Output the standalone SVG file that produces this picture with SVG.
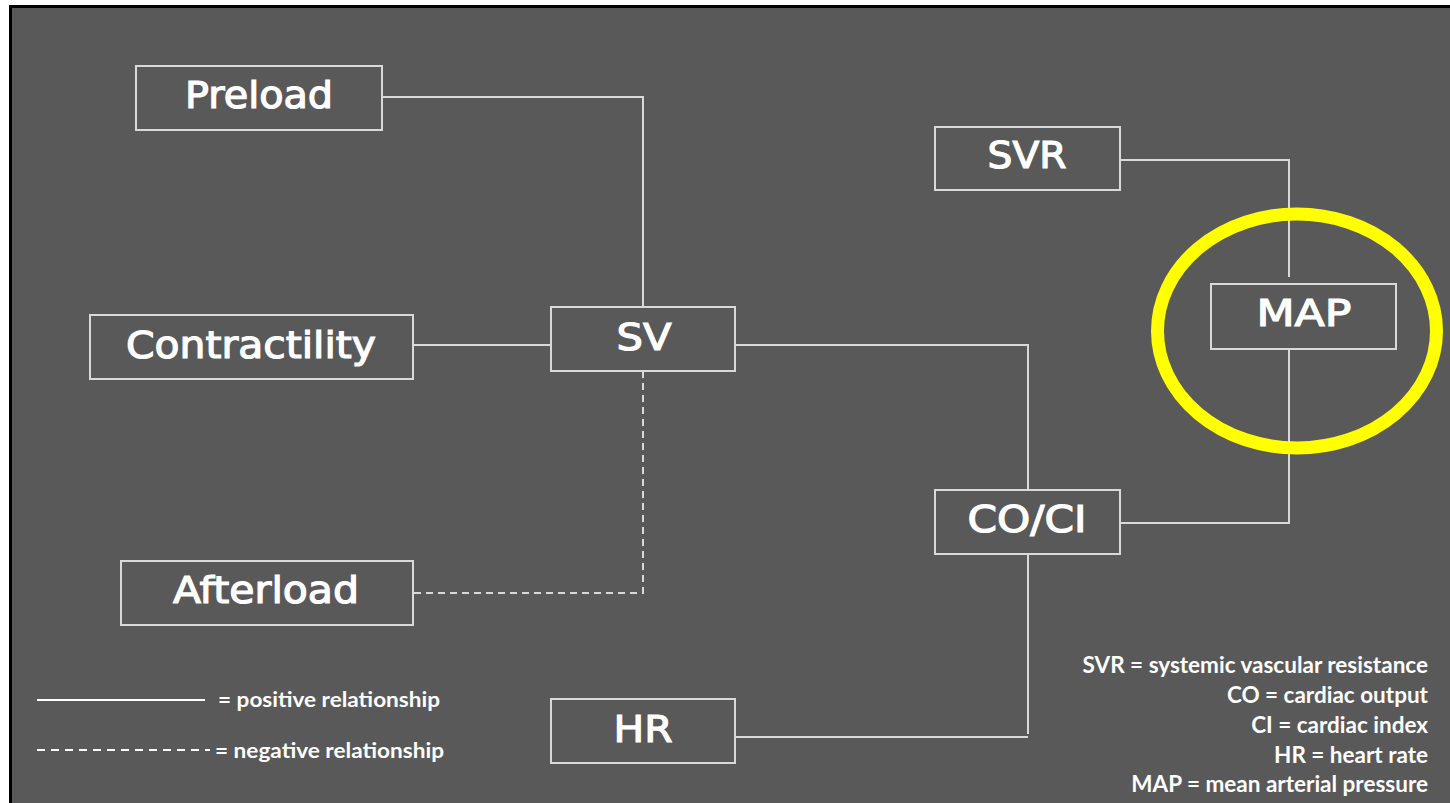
<svg xmlns="http://www.w3.org/2000/svg" width="1450" height="803" viewBox="0 0 1450 803">
<style>
.bg{fill:#595959}
.box{fill:#595959;stroke:#d9d9d9;stroke-width:2}
.lbl{font-family:"DejaVu Sans","Liberation Sans",sans-serif;font-size:38px;fill:#ffffff;stroke:#ffffff;stroke-width:1.2;text-anchor:middle;dominant-baseline:central}
.ln{fill:none;stroke:#d9d9d9;stroke-width:2}
.dash{stroke-dasharray:7 5}
.leg{font-family:Lato,"Liberation Sans",sans-serif;font-weight:bold;font-size:21px;fill:#ffffff}
.key{font-family:Lato,"Liberation Sans",sans-serif;font-weight:bold;font-size:22.5px;fill:#ffffff;text-anchor:end}
</style>
<rect x="0" y="0" width="1450" height="803" fill="#ffffff"/>
<rect x="9" y="5" width="1441" height="798" fill="#000000"/>
<rect x="12" y="8" width="1438" height="795" class="bg"/>
<g id="connectors">
<polyline class="ln" points="382,97 643,97 643,307"/>
<line class="ln" x1="413" y1="345" x2="551" y2="345"/>
<polyline class="ln" points="735,345 1028,345 1028,490"/>
<polyline class="ln dash" points="643,371 643,593 413,593"/>
<line class="ln" x1="1028" y1="554" x2="1028" y2="734"/>
<line class="ln" x1="735" y1="737" x2="1028" y2="737"/>
<polyline class="ln" points="1120,160 1289,160 1289,277"/>
<polyline class="ln" points="1289,349 1289,523 1120,523"/>
</g>
<g id="preload"><rect class="box" x="136" y="66" width="246" height="64"/><text class="lbl" x="259" y="95" textLength="148" lengthAdjust="spacingAndGlyphs">Preload</text></g>
<g id="contractility"><rect class="box" x="90" y="315" width="323" height="64"/><text class="lbl" x="251" y="345" textLength="250" lengthAdjust="spacingAndGlyphs">Contractility</text></g>
<g id="afterload"><rect class="box" x="121" y="561" width="292" height="64"/><text class="lbl" x="266" y="590" textLength="186" lengthAdjust="spacingAndGlyphs">Afterload</text></g>
<g id="sv"><rect class="box" x="551" y="307" width="184" height="64"/><text class="lbl" x="644" y="337" textLength="55" lengthAdjust="spacingAndGlyphs">SV</text></g>
<g id="hr"><rect class="box" x="551" y="699" width="184" height="64"/><text class="lbl" x="643" y="729" textLength="59" lengthAdjust="spacingAndGlyphs">HR</text></g>
<g id="coci"><rect class="box" x="935" y="490" width="185" height="64"/><text class="lbl" x="1027" y="519" textLength="119" lengthAdjust="spacingAndGlyphs">CO/CI</text></g>
<g id="svr"><rect class="box" x="935" y="127" width="185" height="63"/><text class="lbl" x="1027" y="155" textLength="79" lengthAdjust="spacingAndGlyphs">SVR</text></g>
<g id="map"><rect class="box" x="1211" y="284" width="185" height="65"/><text class="lbl" x="1304" y="313" textLength="95" lengthAdjust="spacingAndGlyphs">MAP</text></g>
<ellipse id="highlight" cx="1297" cy="331" rx="139.5" ry="117" fill="none" stroke="#ffff00" stroke-width="13"/>
<g id="legend">
<line x1="37" y1="700" x2="205" y2="700" stroke="#ffffff" stroke-width="2"/>
<text class="leg" x="218" y="707" textLength="222" lengthAdjust="spacingAndGlyphs">= positive relationship</text>
<line x1="37" y1="750" x2="210" y2="750" stroke="#ffffff" stroke-width="2" stroke-dasharray="8 6"/>
<text class="leg" x="215" y="758" textLength="229" lengthAdjust="spacingAndGlyphs">= negative relationship</text>
</g>
<g id="key">
<text class="key" x="1428" y="673">SVR = systemic vascular resistance</text>
<text class="key" x="1428" y="703">CO = cardiac output</text>
<text class="key" x="1428" y="733">CI = cardiac index</text>
<text class="key" x="1428" y="763">HR = heart rate</text>
<text class="key" x="1428" y="792">MAP = mean arterial pressure</text>
</g>
</svg>
